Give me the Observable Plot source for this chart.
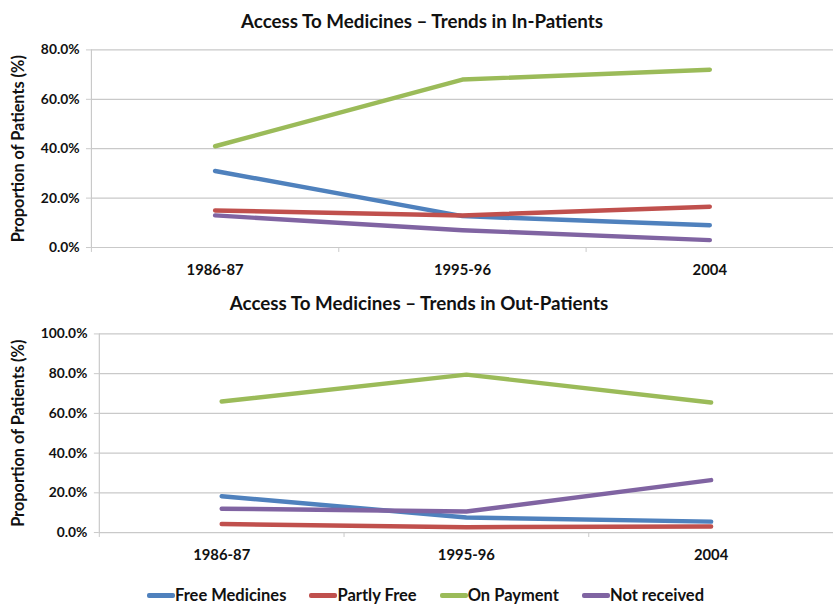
<!DOCTYPE html>
<html>
<head>
<meta charset="utf-8">
<script src="https://cdn.jsdelivr.net/npm/d3@7"></script>
<script src="https://cdn.jsdelivr.net/npm/@observablehq/plot@0.6"></script>
<style>
  html, body { margin: 0; padding: 0; background: #fff; overflow: hidden; width: 833px; height: 604px; }
  #wrap { position: relative; width: 833px; height: 604px; font-family: Lato, "Open Sans", sans-serif; }
  #wrap svg { display: block; }
  #legend { position: absolute; left: 147px; top: 581px; height: 28px; display: flex; align-items: center;
            font-family: Lato, sans-serif; font-weight: 700; font-size: 16.5px; color: #111; white-space: nowrap; }
  .item { display: flex; align-items: center; margin-right: 23px; }
  .sw { width: 28px; height: 5px; border-radius: 2px; }
</style>
</head>
<body>
<div id="wrap"><div id="top"></div><div id="bottom"></div><div id="legend"></div></div>
<script>
const categories = ["1986-87", "1995-96", "2004"];
const seriesNames = ["Free Medicines", "Partly Free", "On Payment", "Not received"];
const seriesColors = ["#4F81BD", "#C0504D", "#9BBB59", "#8064A2"];

// In-Patients (%)
const inFree = [31, 12.7, 9];
const inPartly = [15, 13, 16.5];
const inPayment = [41, 68, 72];
const inNotReceived = [13, 7, 3];

// Out-Patients (%)
const outFree = [18.3, 7.6, 5.5];
const outPartly = [4.3, 2.7, 3.0];
const outPayment = [66, 79.5, 65.5];
const outNotReceived = [12, 10.6, 26.4];

const inTicks = [0, 20, 40, 60, 80];
const outTicks = [0, 20, 40, 60, 80, 100];

const titleIn = "Access To Medicines – Trends in In-Patients";
const titleOut = "Access To Medicines – Trends in Out-Patients";
const yLabel = "Proportion of Patients (%)";

function rows(lists) {
  const out = [];
  lists.forEach((vals, s) => vals.forEach((v, i) => out.push({i, v, s: seriesNames[s]})));
  return out;
}

const catIdx = categories.map((_, i) => i);
const bounds = [-0.5, ...catIdx.map(i => i + 0.5)];

function chart({data, ticks, title, marginLeft, marginTop, marginBottom, height, titleDy, titleDx, labelDx}) {
  const grid = "#c9c9c9";
  return Plot.plot({
    width: 843,
    height,
    marginLeft,
    marginRight: 0,
    marginTop,
    marginBottom,
    style: {fontFamily: "Lato, sans-serif", fontWeight: 700, fontSize: "13.5px", color: "#111", overflow: "visible"},
    x: {type: "linear", domain: [-0.5, categories.length - 0.5]},
    y: {domain: [0, d3.max(ticks)]},
    color: {domain: seriesNames, range: seriesColors},
    marks: [
      Plot.gridY(ticks.filter(t => t > 0), {stroke: grid, strokeOpacity: 1, strokeWidth: 1.2}),
      Plot.ruleY([0], {stroke: grid, strokeWidth: 1.2}),
      Plot.ruleX([-0.5], {stroke: grid, strokeWidth: 1.2}),
      Plot.axisY({ticks, tickSize: 5, tickPadding: 7, stroke: grid, tickFormat: d => d.toFixed(1) + "%", label: null, fill: "#111", fontSize: 14}),
      Plot.axisX({ticks: bounds, tickSize: 5, stroke: grid, tickFormat: () => "", label: null}),
      Plot.axisX({ticks: catIdx, tickSize: 0, tickPadding: 17, tickFormat: i => categories[i], label: null, fill: "#111", fontSize: 15}),
      Plot.line(data, {x: "i", y: "v", z: "s", stroke: "s", strokeWidth: 4.5, strokeLinecap: "round", strokeLinejoin: "round"}),
      Plot.text([title], {frameAnchor: "top", dy: titleDy, dx: titleDx, fontSize: 19, fontWeight: 700, fill: "#111", lineAnchor: "middle"}),
      Plot.text([yLabel], {frameAnchor: "left", textAnchor: "middle", lineAnchor: "middle", rotate: -90, dx: labelDx, fontSize: 16.5, fontWeight: 700, fill: "#111"})
    ]
  });
}

document.getElementById("top").append(chart({
  data: rows([inFree, inPartly, inPayment, inNotReceived]),
  ticks: inTicks, title: titleIn,
  marginLeft: 92, marginTop: 50, marginBottom: 40, height: 290,
  titleDy: -28, titleDx: -41, labelDx: -74
}));

document.getElementById("bottom").append(chart({
  data: rows([outFree, outPartly, outPayment, outNotReceived]),
  ticks: outTicks, title: titleOut,
  marginLeft: 100, marginTop: 47, marginBottom: 42, height: 290,
  titleDy: -30, titleDx: -48, labelDx: -82
}));

const legend = document.getElementById("legend");
seriesNames.forEach((name, k) => {
  const it = document.createElement("div");
  it.className = "item";
  const sw = document.createElement("div");
  sw.className = "sw";
  sw.style.background = seriesColors[k];
  const t = document.createElement("span");
  t.textContent = name;
  it.append(sw, t);
  legend.append(it);
});
</script>
</body>
</html>
